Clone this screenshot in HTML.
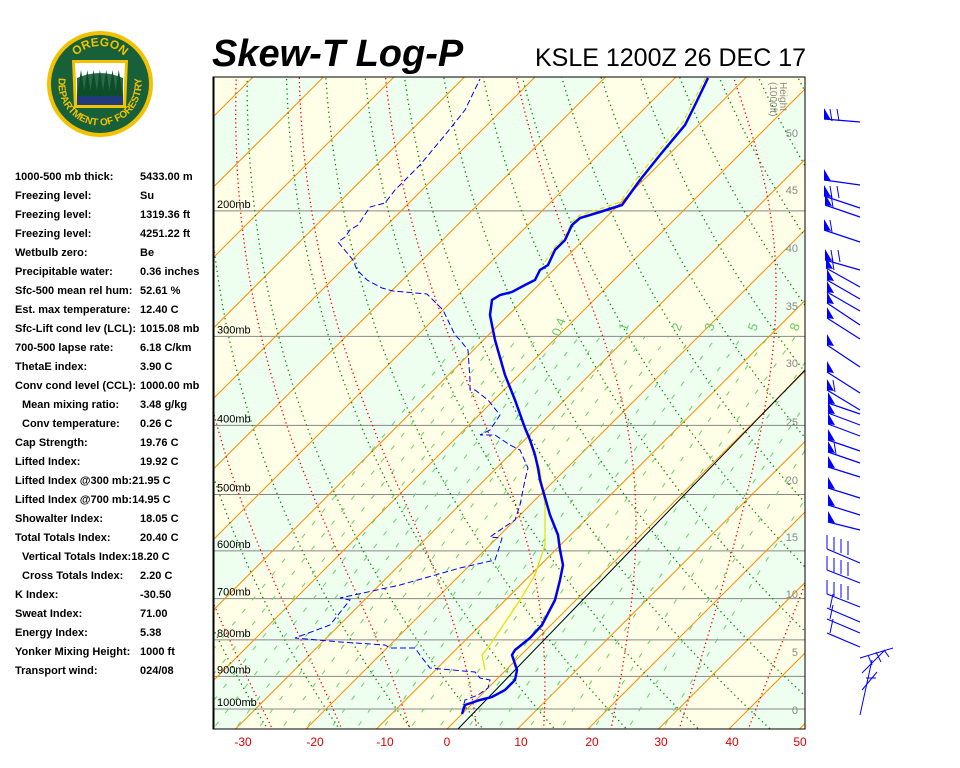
<!DOCTYPE html>
<html><head><meta charset="utf-8"><style>
body{margin:0;background:#fff;width:960px;height:768px;overflow:hidden;font-family:"Liberation Sans",sans-serif}
svg{position:absolute;left:0;top:0}
</style></head><body>
<svg id="c" width="960" height="768" xmlns="http://www.w3.org/2000/svg"></svg>
<script>
const Y=p=>709-309.5*Math.log(1000/p);
const X=(T,p)=>447+7.05*T+(729-Y(p));
let s='<defs><clipPath id="pc"><rect x="213" y="77" width="592" height="652"/></clipPath></defs>';
s+='<g clip-path="url(#pc)">';
for(let n=-25;n<12;n++){const a=n*10,b=a+10,p1=1100,p2=120;
 const col=(Math.abs(n)%2==1)?'#ffffe8':'#eefff0';
 s+=`<polygon fill="${col}" points="${X(a,p1)},${Y(p1)} ${X(a,p2)},${Y(p2)} ${X(b,p2)},${Y(p2)} ${X(b,p1)},${Y(p1)}"/>`;}
[1000,900,800,700,600,500,400,300,200].forEach(p=>{s+=`<line x1="213" x2="805" y1="${Y(p)}" y2="${Y(p)}" stroke="#888" stroke-width="1"/>`;});
for(let t=-250;t<=120;t+=10){s+=`<line x1="${X(t,1100)}" y1="${Y(1100)}" x2="${X(t,120)}" y2="${Y(120)}" stroke="#ff8c00" stroke-width="1"/>`;}
for(let th=223.15;th<=473.15;th+=10){let pts=[];for(let p=1100;p>=120;p-=10){const T=th*Math.pow(p/1000,0.286)-273.15;pts.push(X(T,p).toFixed(1)+','+Y(p).toFixed(1));}
 s+=`<polyline fill="none" stroke="#008800" stroke-width="1.3" stroke-dasharray="1.3,3.5" points="${pts.join(' ')}"/>`;}
function es(Tc){return 6.112*Math.exp(17.67*Tc/(Tc+243.5));}
for(let t0=-39;t0<=51;t0+=10){let T=t0+273.15,pts=[];const Rd=287,cp=1005,Lv=2.5e6,eps=0.622;
 let Tl=T;for(let p=1000;p<1100;p+=5){const e=es(Tl-273.15),rs=eps*e/(p-e);const d=(Rd*Tl+Lv*rs)/(cp+Lv*Lv*rs*eps/(Rd*Tl*Tl))/p;Tl+=d*5;}
 pts.push(X(Tl-273.15,1100)+','+Y(1100));
 for(let p=1000;p>=120;p-=5){pts.push(X(T-273.15,p).toFixed(1)+','+Y(p).toFixed(1));const e=es(T-273.15),rs=eps*e/(p-e);const d=(Rd*T+Lv*rs)/(cp+Lv*Lv*rs*eps/(Rd*T*T))/p;T-=d*5;}
 s+=`<polyline fill="none" stroke="#ff0000" stroke-width="1.3" stroke-dasharray="1.3,3" points="${pts.join(' ')}"/>`;}
function mrTd(w,p){const e=w/1000*p/(0.622+w/1000);const l=Math.log(e/6.112);return 243.5*l/(17.67-l);}
for(let k=-5;k<=14;k++){const w=0.4*Math.pow(1.35,k);let pts=[];for(let p=1100;p>=300;p-=10){pts.push(X(mrTd(w,p),p).toFixed(1)+','+Y(p).toFixed(1));}
 s+=`<polyline fill="none" stroke="#66d066" stroke-width="1" stroke-dasharray="5,11" points="${pts.join(' ')}"/>`;}
[0.4,1,2,3,5,8].forEach(w=>{const x=X(mrTd(w,300),300)+4,y=Y(300)-8;
 s+=`<text x="${x}" y="${y}" font-size="13" fill="#66cc66" transform="rotate(-70 ${x} ${y})" text-anchor="middle">${w}</text>`;});
s+='<line x1="458" y1="729" x2="805" y2="370" stroke="#000" stroke-width="1"/>';
[[1000,'1000mb'],[900,'900mb'],[800,'800mb'],[700,'700mb'],[600,'600mb'],[500,'500mb'],[400,'400mb'],[300,'300mb'],[200,'200mb']].forEach(a=>{s+=`<text x="217" y="${Y(a[0])-3}" font-size="11" fill="#000">${a[1]}</text>`;});
[[50,133],[45,190],[40,248],[35,306],[30,363],[25,422],[20,480],[15,537],[10,594],[5,652],[0,710]].forEach(a=>{s+=`<text x="798" y="${a[1]+4}" font-size="11" fill="#888" text-anchor="end">${a[0]}</text>`;});
s+='<text x="780" y="82" font-size="10" fill="#888" transform="rotate(90 780 82)">Height</text><text x="770" y="82" font-size="10" fill="#888" transform="rotate(90 770 82)">(1000ft)</text>';
const dew=[[462,712],[465,700],[478,695],[488,688],[490,680],[480,678],[475,672],[430,668],[420,655],[415,648],[390,648],[385,645],[340,642],[295,638],[330,625],[350,600],[340,598],[400,585],[460,568],[495,560],[500,545],[502,538],[490,537],[500,530],[515,520],[520,505],[525,480],[528,468],[520,450],[510,445],[495,435],[480,435],[490,430],[500,415],[488,400],[475,390],[470,390],[470,380],[468,350],[460,340],[455,335],[443,310],[427,294],[393,291],[382,288],[367,280],[357,270],[353,260],[338,242],[345,237],[350,230],[358,225],[370,207],[385,203],[395,190],[420,165],[445,135],[465,110],[480,79]];
s+=`<polyline fill="none" stroke="#0000ff" stroke-width="1" stroke-dasharray="6,3" points="${dew.map(a=>a.join(',')).join(' ')}"/>`;
const yel=[[485,670],[482,655],[490,645],[500,630],[520,600],[535,575],[545,545],[545,505],[540,470],[530,440]];
s+=`<polyline fill="none" stroke="#e0e000" stroke-width="1.2" points="${yel.map(a=>a.join(',')).join(' ')}"/>`;
const up=[[545,262],[555,247],[565,237],[572,222],[580,215],[600,209],[620,202],[638,177],[658,152],[683,122],[693,102],[706,77]];
s+=`<polyline fill="none" stroke="#e0e000" stroke-width="1.2" stroke-dasharray="5,3" points="${up.map(a=>a.join(',')).join(' ')}"/>`;
const tmp=[[462,714],[465,705],[480,700],[492,697],[505,690],[515,680],[517,670],[512,655],[515,650],[530,638],[542,625],[555,600],[560,580],[563,565],[560,550],[558,535],[550,515],[540,480],[538,468],[535,455],[530,440],[525,428],[515,400],[505,375],[495,340],[490,315],[492,300],[500,295],[512,292],[525,285],[535,280],[540,270],[548,265],[555,250],[565,240],[572,225],[580,218],[600,212],[622,205],[640,180],[660,155],[685,125],[695,105],[708,78]];
s+=`<polyline fill="none" stroke="#0000ee" stroke-width="2.5" points="${tmp.map(a=>a.join(',')).join(' ')}"/>`;
s+='</g>';
s+='<rect x="213" y="77" width="592" height="652" fill="none" stroke="#000" stroke-width="1"/><line x1="213.5" y1="77" x2="213.5" y2="729" stroke="#000" stroke-width="2"/>';
[[-30,243],[-20,315],[-10,385],[0,447],[10,521],[20,592],[30,661],[40,732],[50,800]].forEach(a=>{s+=`<text x="${a[1]}" y="746" font-size="12" fill="#e00000" text-anchor="middle">${a[0]}</text>`;});
const wb=[[824,119,122,1,2],[824,180,185,1,0],[824,196,208,1,2],[825,205,217,1,1],[824,230,242,1,1],[825,260,270,1,2],[826,268,287,1,1],[827,280,299,1,0],[827,292,311,1,0],[827,303,325,1,0],[827,318,339,1,0],[827,345,367,1,0],[827,372,393,1,0],[827,390,410,1,1],[828,403,414,1,0],[828,413,425,1,0],[828,424,436,1,0],[828,440,451,1,0],[828,452,463,1,1],[828,467,477,1,0],[828,488,498,1,0],[828,505,515,1,0],[828,522,530,1,0]];
wb.forEach(b=>{const[x0,y0,y1,f,n]=b;s+=`<line x1="${x0}" y1="${y0}" x2="860" y2="${y1}" stroke="#00f" stroke-width="1.2"/>`;
 if(f)s+=`<polygon points="${x0},${y0-11} ${x0},${y0} ${x0+7},${y0+1}" fill="#00f"/>`;
 for(let i=0;i<n;i++){const x=x0+8+i*7;s+=`<line x1="${x}" y1="${y0+2}" x2="${x-2}" y2="${y0-10}" stroke="#00f" stroke-width="1"/>`;}});
[[549,563],[570,583],[594,607],[608,622],[619,633],[633,647]].forEach((a,i)=>{const x0=827;s+=`<line x1="${x0}" y1="${a[0]}" x2="860" y2="${a[1]}" stroke="#00f" stroke-width="1.2"/>`;
 if(i<3){for(let k=0;k<4;k++){const x=x0+k*7;s+=`<line x1="${x}" y1="${a[0]+k*2}" x2="${x}" y2="${a[0]+k*2-14}" stroke="#00f" stroke-width="1"/>`;}}
 else{s+=`<line x1="${x0+3}" y1="${a[0]}" x2="${x0+6}" y2="${a[0]-14}" stroke="#00f" stroke-width="1"/>`;}});
s+='<g stroke="#00f" stroke-width="1" fill="none"><line x1="860" y1="658" x2="893" y2="648"/><line x1="862" y1="673" x2="885" y2="650"/><line x1="860" y1="715" x2="872" y2="660"/><line x1="862" y1="690" x2="877" y2="672"/><line x1="868" y1="655" x2="872" y2="665"/><line x1="876" y1="652" x2="881" y2="662"/><line x1="884" y1="650" x2="889" y2="657"/><line x1="866" y1="678" x2="876" y2="678"/></g>';
s+='<text x="212" y="66" font-size="38" font-weight="bold" font-style="italic" fill="#000">Skew-T Log-P</text>';
s+='<text x="535" y="66" font-size="25" fill="#000">KSLE 1200Z 26 DEC 17</text>';
const st=[['1000-500 mb thick:','5433.00 m'],['Freezing level:','Su'],['Freezing level:','1319.36 ft'],['Freezing level:','4251.22 ft'],['Wetbulb zero:','Be'],['Precipitable water:','0.36 inches'],['Sfc-500 mean rel hum:','52.61 %'],['Est. max temperature:','12.40 C'],['Sfc-Lift cond lev (LCL):','1015.08 mb'],['700-500 lapse rate:','6.18 C/km'],['ThetaE index:','3.90 C'],['Conv cond level (CCL):','1000.00 mb'],[' Mean mixing ratio:','3.48 g/kg'],[' Conv temperature:','0.26 C'],['Cap Strength:','19.76 C'],['Lifted Index:','19.92 C'],['Lifted Index @300 mb:','21.95 C'],['Lifted Index @700 mb:','14.95 C'],['Showalter Index:','18.05 C'],['Total Totals Index:','20.40 C'],[' Vertical Totals Index:','18.20 C'],[' Cross Totals Index:','2.20 C'],['K Index:','-30.50'],['Sweat Index:','71.00'],['Energy Index:','5.38'],['Yonker Mixing Height:','1000 ft'],['Transport wind:','024/08']];
st.forEach((a,i)=>{const y=180+i*19;const ind=a[0][0]==' ';const lab=a[0].trim();
 if(lab.indexOf('@')>0||lab.indexOf('Vertical')>=0){s+=`<text x="${ind?22:15}" y="${y}" font-size="11" font-weight="bold">${lab}${a[1]}</text>`;}
 else{s+=`<text x="${ind?22:15}" y="${y}" font-size="11" font-weight="bold">${lab}</text><text x="140" y="${y}" font-size="11" font-weight="bold">${a[1]}</text>`;}});
s+='<g><circle cx="100" cy="84" r="53" fill="#f2c200"/><circle cx="100" cy="84" r="49" fill="#17603a"/>';
s+='<defs><path id="ta" d="M66,80 A34,34 0 0 1 134,80"/><path id="tb" d="M64.2,63 A41.5,41.5 0 1 0 135.8,63"/></defs>';
s+='<path d="M72,60 L128,60 L126,108 L74,108 Z" fill="#f2c200"/><path d="M75,63 L125,63 L123,105 L77,105 Z" fill="#fff"/><rect x="77" y="94" width="46" height="11" fill="#203a7a"/><path d="M77,78 Q100,68 123,78 L123,95 L77,95 Z" fill="#2a6a4a"/>';
for(let i=0;i<7;i++){const x=81+i*6.3;s+=`<polygon points="${x},70 ${x-4},96 ${x+4},96" fill="#0d4d2a"/>`;}
s+='<text font-size="12" font-weight="bold" fill="#f2c200"><textPath href="#ta" startOffset="50%" text-anchor="middle">OREGON</textPath></text>';
s+='<text font-size="10" font-weight="bold" fill="#f2c200"><textPath href="#tb" startOffset="50%" text-anchor="middle">DEPARTMENT OF FORESTRY</textPath></text>';
s+='</g>';
document.getElementById('c').innerHTML=s;
</script>
</body></html>
